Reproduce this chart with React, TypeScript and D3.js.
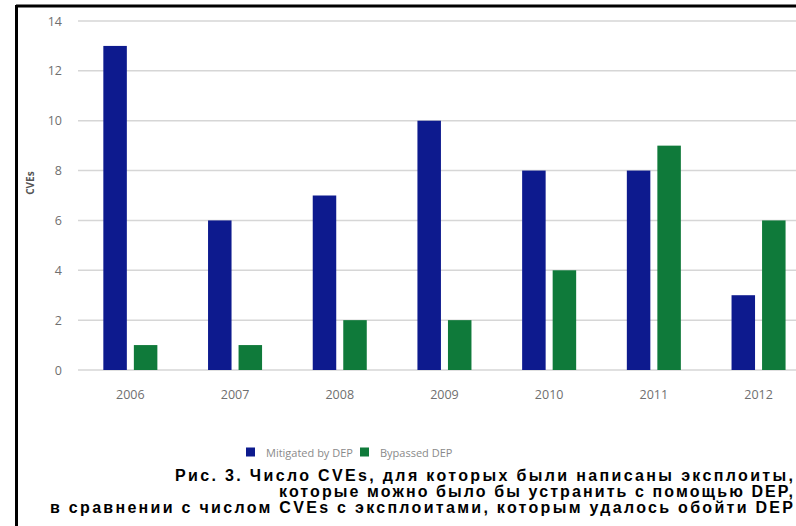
import { FC, useMemo } from "react";
import * as d3 from "d3";

const WIDTH = 796, HEIGHT = 526;
const years = ["2006", "2007", "2008", "2009", "2010", "2011", "2012"];
const mitigated = [13, 6, 7, 10, 8, 8, 3];
const bypassed = [1, 1, 2, 2, 4, 9, 6];
const yTicks = [0, 2, 4, 6, 8, 10, 12, 14];
const seriesNames = ["Mitigated by DEP", "Bypassed DEP"];
const seriesColors = ["#0d1a8e", "#0f7a3a"];
const captionLines = [
  "Рис. 3. Число CVEs, для которых были написаны эксплоиты,",
  "которые можно было бы устранить с помощью DEP,",
  "в сравнении с числом CVEs с эксплоитами, которым удалось обойти DEP",
];

const AXIS_FONT = "'Open Sans', 'Noto Sans', sans-serif";

const App: FC = () => {
  const x0 = 78;
  const x1 = x0 + 104.7 * years.length;

  const xScale = useMemo(
    () => d3.scaleBand().domain(years).range([x0, x1]).paddingInner(0.484).paddingOuter(0.242),
    []
  );
  const subScale = useMemo(
    () => d3.scaleBand().domain(seriesNames).range([0, xScale.bandwidth()]).paddingInner(0.23),
    [xScale]
  );
  const yScale = useMemo(() => d3.scaleLinear().domain([0, 14]).range([370, 21]), []);

  const series = [mitigated, bypassed];

  // caption lines: start x, end just inside the right edge
  const capStart = [175, 279, 50];
  const capEnd = 793;

  return (
    <svg width={WIDTH} height={HEIGHT} style={{ position: "absolute", left: 0, top: 0 }}>
      <rect width={WIDTH} height={HEIGHT} fill="#ffffff" />
      {/* frame */}
      <line x1={16} x2={WIDTH} y1={6} y2={6} stroke="#000" strokeWidth={3} />
      <line x1={16.5} x2={16.5} y1={5} y2={HEIGHT} stroke="#000" strokeWidth={3} />

      {/* grid + y ticks */}
      {yTicks.map((t) => (
        <g key={t}>
          <line x1={x0} x2={x1} y1={yScale(t)} y2={yScale(t)} stroke="#d6d6d6" strokeWidth={1.5} />
          <text x={62} y={yScale(t)} textAnchor="end" dominantBaseline="central"
            fontSize={12.5} fill="#6f6f6f" fontFamily={AXIS_FONT}>{t}</text>
        </g>
      ))}

      <text transform={`translate(34,${yScale(7.5)}) rotate(-90)`} textAnchor="middle"
        fontSize={10} fontWeight="bold" fill="#555" fontFamily={AXIS_FONT}>CVEs</text>

      {/* bars */}
      {years.map((yr, i) => (
        <g key={yr} transform={`translate(${xScale(yr)},0)`}>
          {series.map((s, j) => (
            <rect key={j}
              x={subScale(seriesNames[j])}
              y={yScale(s[i])}
              width={subScale.bandwidth()}
              height={yScale(0) - yScale(s[i])}
              fill={seriesColors[j]} />
          ))}
          <text x={xScale.bandwidth() / 2} y={394} textAnchor="middle" dominantBaseline="central"
            fontSize={12.5} fill="#6f6f6f" fontFamily={AXIS_FONT}>{yr}</text>
        </g>
      ))}

      {/* legend */}
      {seriesNames.map((name, j) => {
        const lx = [246, 360][j];
        return (
          <g key={name} transform={`translate(${lx},452)`}>
            <rect x={0} y={-4.5} width={9} height={9} fill={seriesColors[j]} />
            <text x={20} y={0} dominantBaseline="central" fontSize={11} fill="#8a8a8a"
              fontFamily={AXIS_FONT}>{name}</text>
          </g>
        );
      })}

      {/* caption */}
      {captionLines.map((line, k) => (
        <text key={k} x={capStart[k]} y={[481, 497, 513][k]}
          fontSize={16} fontWeight="bold" fill="#000"
          fontFamily="'Liberation Sans', Arial, sans-serif"
          textLength={capEnd - capStart[k]}
          lengthAdjust="spacing">{line}</text>
      ))}
    </svg>
  );
};

export default App;
